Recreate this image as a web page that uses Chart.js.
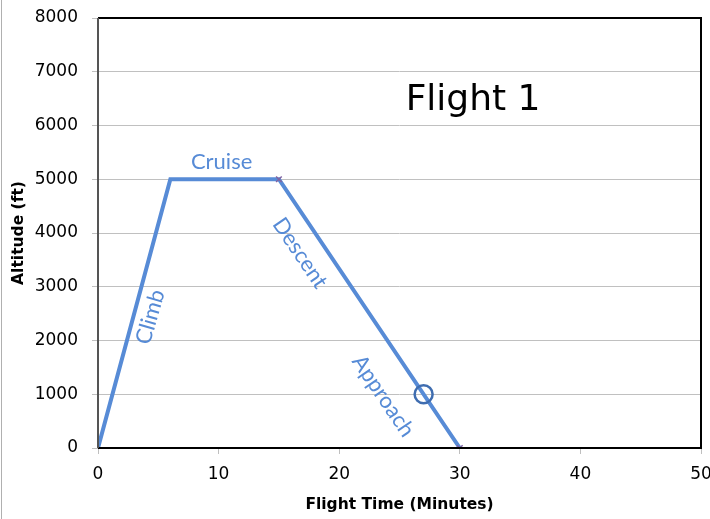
<!DOCTYPE html>
<html>
<head>
<meta charset="utf-8">
<script src="https://cdn.jsdelivr.net/npm/chart.js@4"></script>
<style>
  html, body { margin: 0; padding: 0; background: #fff; }
  body { width: 710px; height: 519px; overflow: hidden; }
  #wrap { position: relative; width: 710px; height: 519px; }
  #edge { position: absolute; left: 1px; top: 0; width: 1px; height: 519px; background: #b0b0b0; }
</style>
</head>
<body>
<div id="wrap">
  <canvas id="flightChart" width="710" height="519"></canvas>
  <div id="edge"></div>
</div>
<script>
// flight profile
const flightTime = [0, 6, 15, 30];
const altitude = [0, 5000, 5000, 0];

// waypoint markers
const waypointTime = [15, 30];
const waypointAlt = [5000, 0];

// circled point
const fixTime = [27];
const fixAlt = [1000];

const xTicks = [0, 10, 20, 30, 40, 50];
const yTicks = [0, 1000, 2000, 3000, 4000, 5000, 6000, 7000, 8000];

const BLUE = "#578bd6";

function toPoints(xs, ys) {
  return xs.map((x, i) => ({ x: x, y: ys[i] }));
}

// frame round the plot area
const framePlugin = {
  id: "frame",
  afterDatasetsDraw(chart) {
    const { ctx, chartArea: a } = chart;
    ctx.save();
    ctx.lineWidth = 2;
    ctx.strokeStyle = "#000";
    ctx.beginPath();
    ctx.moveTo(a.left, a.top);
    ctx.lineTo(a.right, a.top);
    ctx.lineTo(a.right, a.bottom);
    ctx.lineTo(a.left, a.bottom);
    ctx.stroke();
    ctx.strokeStyle = "#555";
    ctx.beginPath();
    ctx.moveTo(a.left, a.top);
    ctx.lineTo(a.left, a.bottom);
    ctx.stroke();
    ctx.restore();
  },
};

// phase labels and title, placed in data coordinates
const labelPlugin = {
  id: "phaseLabels",
  afterDatasetsDraw(chart, args, opts) {
    const { ctx, scales } = chart;
    ctx.save();
    ctx.textAlign = "center";
    ctx.textBaseline = "middle";
    opts.items.forEach((it) => {
      const px = scales.x.getPixelForValue(it.x);
      const py = scales.y.getPixelForValue(it.y);
      ctx.save();
      ctx.translate(px, py);
      ctx.rotate((it.angle * Math.PI) / 180);
      ctx.font = it.font;
      ctx.fillStyle = it.color;
      ctx.fillText(it.text, 0, 0);
      ctx.restore();
    });
    ctx.restore();
  },
};

const labelFont = "22px Lato";

new Chart(document.getElementById("flightChart"), {
  type: "scatter",
  data: {
    datasets: [
      {
        label: "Flight 1",
        data: toPoints(flightTime, altitude),
        showLine: true,
        borderColor: BLUE,
        borderWidth: 4,
        pointRadius: 0,
        tension: 0,
        order: 3,
      },
      {
        label: "Waypoints",
        data: toPoints(waypointTime, waypointAlt),
        showLine: false,
        pointStyle: "crossRot",
        pointRadius: 4,
        borderColor: "#8064a2",
        borderWidth: 1.5,
        order: 2,
      },
      {
        label: "Fix",
        data: toPoints(fixTime, fixAlt),
        showLine: false,
        pointStyle: "circle",
        pointRadius: 9,
        backgroundColor: "rgba(0,0,0,0)",
        borderColor: "#3f6db0",
        borderWidth: 2.5,
        order: 1,
      },
    ],
  },
  options: {
    responsive: false,
    animation: false,
    layout: { autoPadding: false, padding: { top: 18, right: 9, left: 0, bottom: 0 } },
    plugins: {
      legend: { display: false },
      tooltip: { enabled: false },
      phaseLabels: {
        items: [
          { text: "Cruise", x: 10.25, y: 5320, angle: 0, font: labelFont, color: BLUE },
          { text: "Climb", x: 4.35, y: 2437, angle: -74, font: labelFont, color: BLUE },
          { text: "Descent", x: 16.75, y: 3628, angle: 56, font: labelFont, color: BLUE },
          { text: "Approach", x: 23.65, y: 967, angle: 56, font: labelFont, color: BLUE },
          { text: "Flight 1", x: 31.1, y: 6470, angle: 0, font: "36px 'DejaVu Sans'", color: "#000" },
        ],
      },
    },
    scales: {
      x: {
        type: "linear",
        min: 0,
        max: 50,
        afterBuildTicks: (s) => { s.ticks = xTicks.map((v) => ({ value: v })); },
        afterFit: (s) => { s.height = 71; s.paddingLeft = 0; s.paddingRight = 0; },
        ticks: {
          padding: 10,
          color: "#000",
          font: { family: "DejaVu Sans", size: 17 },
          callback: (v) => String(v),
        },
        grid: { drawOnChartArea: false, color: "#bfbfbf", tickLength: 6 },
        border: { display: false },
        title: {
          display: true,
          text: "Flight Time (Minutes)",
          color: "#000",
          font: { family: "DejaVu Sans", size: 15.5, weight: "bold" },
          padding: { top: 0, bottom: 5 },
        },
      },
      y: {
        type: "linear",
        min: 0,
        max: 8000,
        afterBuildTicks: (s) => { s.ticks = yTicks.map((v) => ({ value: v })); },
        afterFit: (s) => { s.width = 98; s.paddingTop = 0; s.paddingBottom = 0; },
        ticks: {
          padding: 14,
          color: "#000",
          font: { family: "DejaVu Sans", size: 17 },
          callback: (v) => String(v),
        },
        grid: { color: "#c0c0c0", lineWidth: 1, tickLength: 6 },
        border: { display: false },
        title: {
          display: true,
          text: "Altitude (ft)",
          color: "#000",
          font: { family: "DejaVu Sans", size: 15.5, weight: "bold" },
          padding: { top: 10, bottom: 0 },
        },
      },
    },
  },
  plugins: [framePlugin, labelPlugin],
});
</script>
</body>
</html>
